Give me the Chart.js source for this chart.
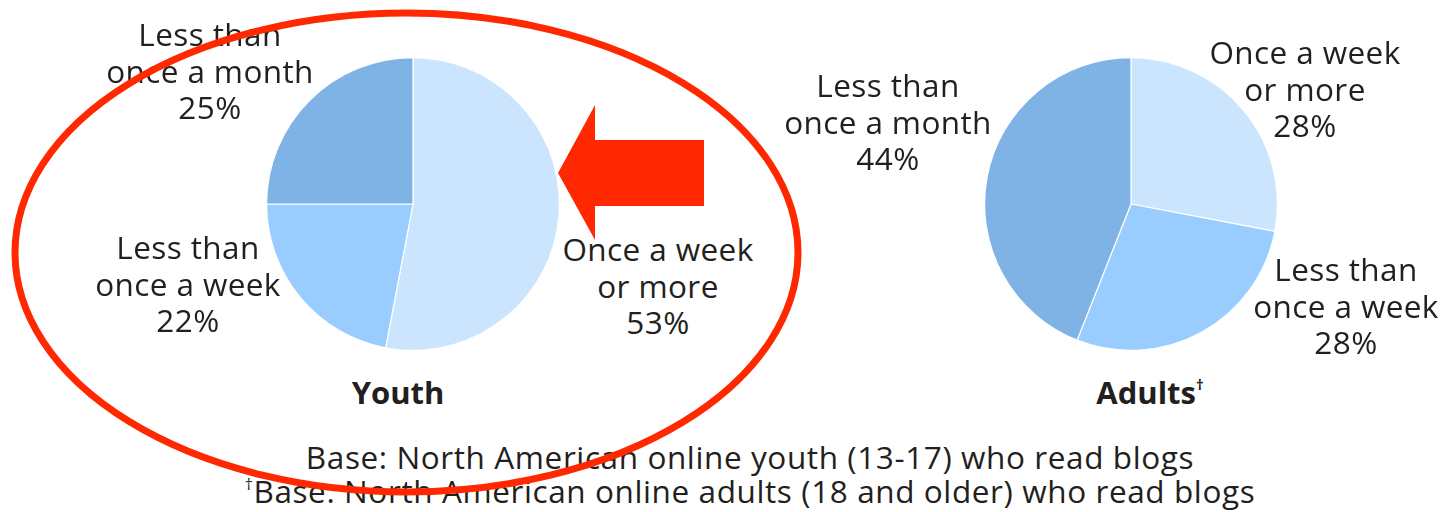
<!DOCTYPE html>
<html>
<head>
<meta charset="utf-8">
<script src="https://cdn.jsdelivr.net/npm/chart.js@4.4.1/dist/chart.umd.min.js"></script>
<style>
  html, body { margin: 0; padding: 0; background: #fff; }
  body { width: 1448px; height: 512px; position: relative; overflow: hidden;
         font-family: "Open Sans", "DejaVu Sans", sans-serif; color: #231f20; }
  .pie { position: absolute; width: 294px; height: 294px; }
  .lbl { position: absolute; font-size: 31.5px; letter-spacing: 0.4px; line-height: 36.5px; text-align: center; white-space: nowrap; transform: translateX(-50%); }
  .title { position: absolute; font-size: 31px; font-weight: bold; white-space: nowrap; transform: translateX(-50%); line-height: 36px; }
  .foot { position: absolute; left: 750px; font-size: 31.5px; letter-spacing: 0.6px; line-height: 34px; text-align: center; white-space: nowrap; transform: translateX(-50%); }
  .dag { position: relative; line-height: 0; }
  svg.ov { position: absolute; left: 0; top: 0; pointer-events: none; }
</style>
</head>
<body>
<div class="pie" id="youthBox" style="left:266px; top:57px;"><canvas id="youth"></canvas></div>
<div class="pie" id="adultBox" style="left:984px; top:57px;"><canvas id="adult"></canvas></div>
<div id="labels"></div>
<div class="title" style="left:398px; top:374px;">Youth</div>
<div class="title" style="left:1150px; top:374px;">Adults<span class="dag" style="font-size:15px; top:-14px;">†</span></div>
<div class="foot" style="top:440px;">Base: North American online youth (13-17) who read blogs<br><span class="dag" style="font-size:16px; top:-13px;">†</span>Base: North American online adults (18 and older) who read blogs</div>
<svg class="ov" width="1448" height="512" viewBox="0 0 1448 512">
  <ellipse cx="406.5" cy="252.5" rx="391.5" ry="239.5" fill="none" stroke="#ff2800" stroke-width="7"/>
  <polygon points="558,173 595,105 595,140 704,140 704,206 595,206 595,240" fill="#ff2800"/>
</svg>
<script>
// ---- data ----
const categories = ["Once a week or more", "Less than once a week", "Less than once a month"];
const labelLines = [["Once a week", "or more"], ["Less than", "once a week"], ["Less than", "once a month"]];
const youthValues = [53, 22, 25];
const adultValues = [28, 28, 44];
const sliceColors = ["#cce5ff", "#99ccff", "#7fb2e5"];

// label positions (center x, top of block) per category
const youthLabelPos = [[658, 231], [188, 229], [210, 16]];
const adultLabelPos = [[1305, 34], [1346, 251], [888, 67]];

function makePie(id, values) {
  new Chart(document.getElementById(id), {
    type: 'pie',
    data: {
      labels: categories,
      datasets: [{ data: values, backgroundColor: sliceColors, borderColor: '#ffffff', borderWidth: 1.2 }]
    },
    options: {
      responsive: true,
      maintainAspectRatio: false,
      animation: false,
      layout: { padding: 0 },
      plugins: { legend: { display: false }, tooltip: { enabled: false } }
    }
  });
}
makePie('youth', youthValues);
makePie('adult', adultValues);

const host = document.getElementById('labels');
function addLabels(values, pos) {
  values.forEach((v, i) => {
    const d = document.createElement('div');
    d.className = 'lbl';
    d.style.left = pos[i][0] + 'px';
    d.style.top = pos[i][1] + 'px';
    d.innerHTML = labelLines[i][0] + '<br>' + labelLines[i][1] + '<br>' + v + '%';
    host.appendChild(d);
  });
}
addLabels(youthValues, youthLabelPos);
addLabels(adultValues, adultLabelPos);
</script>
</body>
</html>
